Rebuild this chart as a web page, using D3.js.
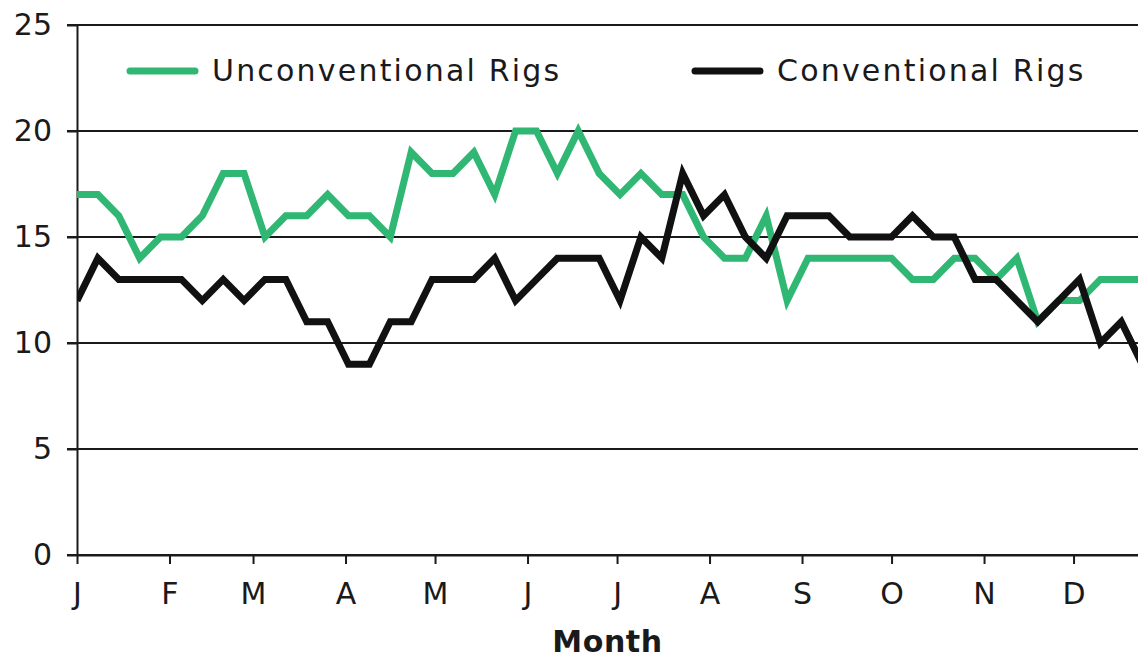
<!DOCTYPE html>
<html>
<head>
<meta charset="utf-8">
<script src="https://cdn.jsdelivr.net/npm/d3@7"></script>
<style>
    body { margin: 0; background: #fff; }
    svg { display: block; }
    .axis text { font-family: "DejaVu Sans", sans-serif; font-size: 30px; fill: #1a1a1a; }
    .axis path, .axis line { stroke: #1a1a1a; stroke-width: 2; }
    .legendLabel { font-family: "DejaVu Sans", sans-serif; font-size: 30px; letter-spacing: 2.2px; fill: #1a1a1a; }
    .axisTitle { font-family: "DejaVu Sans", sans-serif; font-size: 30px; letter-spacing: 0.6px; font-weight: bold; fill: #1a1a1a; }
</style>
</head>
<body>
<div id="plot"></div>
<script>
var width = 1138;
var height = 660;

var LEFT = 77;
var RIGHT = 1138;
var TOP = 25;
var BOTTOM = 555;
var LINE_WIDTH = 7;

// Day of year at which each month starts, and its label
var monthStarts = [0, 31, 59, 90, 120, 151, 181, 212, 243, 273, 304, 334];
var monthLabels = ["J", "F", "M", "A", "M", "J", "J", "A", "S", "O", "N", "D"];
var yTicks = [0, 5, 10, 15, 20, 25];

// Weekly rig counts, one value per week starting Jan 1
var unconventional = [17, 17, 16, 14, 15, 15, 16, 18, 18, 15, 16, 16, 17, 16, 16, 15, 19, 18, 18, 19,
    17, 20, 20, 18, 20, 18, 17, 18, 17, 17, 15, 14, 14, 16, 12, 14, 14, 14, 14, 14,
    13, 13, 14, 14, 13, 14, 11, 12, 12, 13, 13, 13];
var conventional = [12, 14, 13, 13, 13, 13, 12, 13, 12, 13, 13, 11, 11, 9, 9, 11, 11, 13, 13, 13,
    14, 12, 13, 14, 14, 14, 12, 15, 14, 18, 16, 17, 15, 14, 16, 16, 16, 15, 15, 15,
    16, 15, 15, 13, 13, 12, 11, 12, 13, 10, 11, 9];

var series = [
    { name: "Unconventional Rigs", values: unconventional, color: "#31b774", legendX: 130 },
    { name: "Conventional Rigs", values: conventional, color: "#111111", legendX: 695 }
];

var svg = d3.select("#plot").append("svg")
    .attr("width", width)
    .attr("height", height);

var scaleX = d3.scaleLinear().domain([0, 355.6]).range([LEFT, RIGHT]);
var scaleY = d3.scaleLinear().domain([0, 25]).range([BOTTOM, TOP]);

// Gridlines
svg.append("g").selectAll("line.grid")
    .data(yTicks)
    .enter().append("line")
    .attr("class", "grid")
    .attr("x1", LEFT - 10)
    .attr("x2", RIGHT)
    .attr("y1", function(d) { return scaleY(d); })
    .attr("y2", function(d) { return scaleY(d); })
    .style("stroke", "#1a1a1a")
    .style("stroke-width", 2);

// Y axis
svg.append("g")
    .attr("class", "axis")
    .attr("transform", translate(LEFT, 0))
    .call(d3.axisLeft(scaleY).tickValues(yTicks).tickSize(10).tickSizeOuter(0).tickPadding(15));

// X axis
svg.append("g")
    .attr("class", "axis")
    .attr("transform", translate(0, BOTTOM))
    .call(d3.axisBottom(scaleX)
        .tickValues(monthStarts)
        .tickFormat(function(d, i) { return monthLabels[i]; })
        .tickSize(9)
        .tickSizeOuter(0)
        .tickPadding(19));

svg.append("text")
    .attr("class", "axisTitle")
    .attr("x", (LEFT + RIGHT) / 2)
    .attr("y", 652)
    .attr("text-anchor", "middle")
    .text("Month");

// Clip lines to plot area
svg.append("clipPath").attr("id", "clip")
    .append("rect")
    .attr("x", LEFT)
    .attr("y", 0)
    .attr("width", RIGHT - LEFT)
    .attr("height", BOTTOM);

var pathGenerator = d3.line()
    .x(function(d, i) { return scaleX(i * 7); })
    .y(function(d) { return scaleY(d); });

svg.append("g").attr("clip-path", "url(#clip)")
    .selectAll("path.series")
    .data(series)
    .enter().append("path")
    .attr("class", "series")
    .attr("d", function(d) { return pathGenerator(d.values); })
    .style("fill", "none")
    .style("stroke", function(d) { return d.color; })
    .style("stroke-width", LINE_WIDTH)
    .style("stroke-linejoin", "miter");

// Legend
var legend = svg.append("g").selectAll("g.legend")
    .data(series)
    .enter().append("g")
    .attr("class", "legend")
    .attr("transform", function(d) { return translate(d.legendX, 71); });

legend.append("line")
    .attr("x1", 0)
    .attr("x2", 65)
    .style("stroke", function(d) { return d.color; })
    .style("stroke-width", LINE_WIDTH)
    .style("stroke-linecap", "round");

legend.append("text")
    .attr("class", "legendLabel")
    .attr("x", 82)
    .attr("y", 10)
    .text(function(d) { return d.name; });

function translate(x, y) {
    return "translate(" + x + "," + y + ")";
}
</script>
</body>
</html>
